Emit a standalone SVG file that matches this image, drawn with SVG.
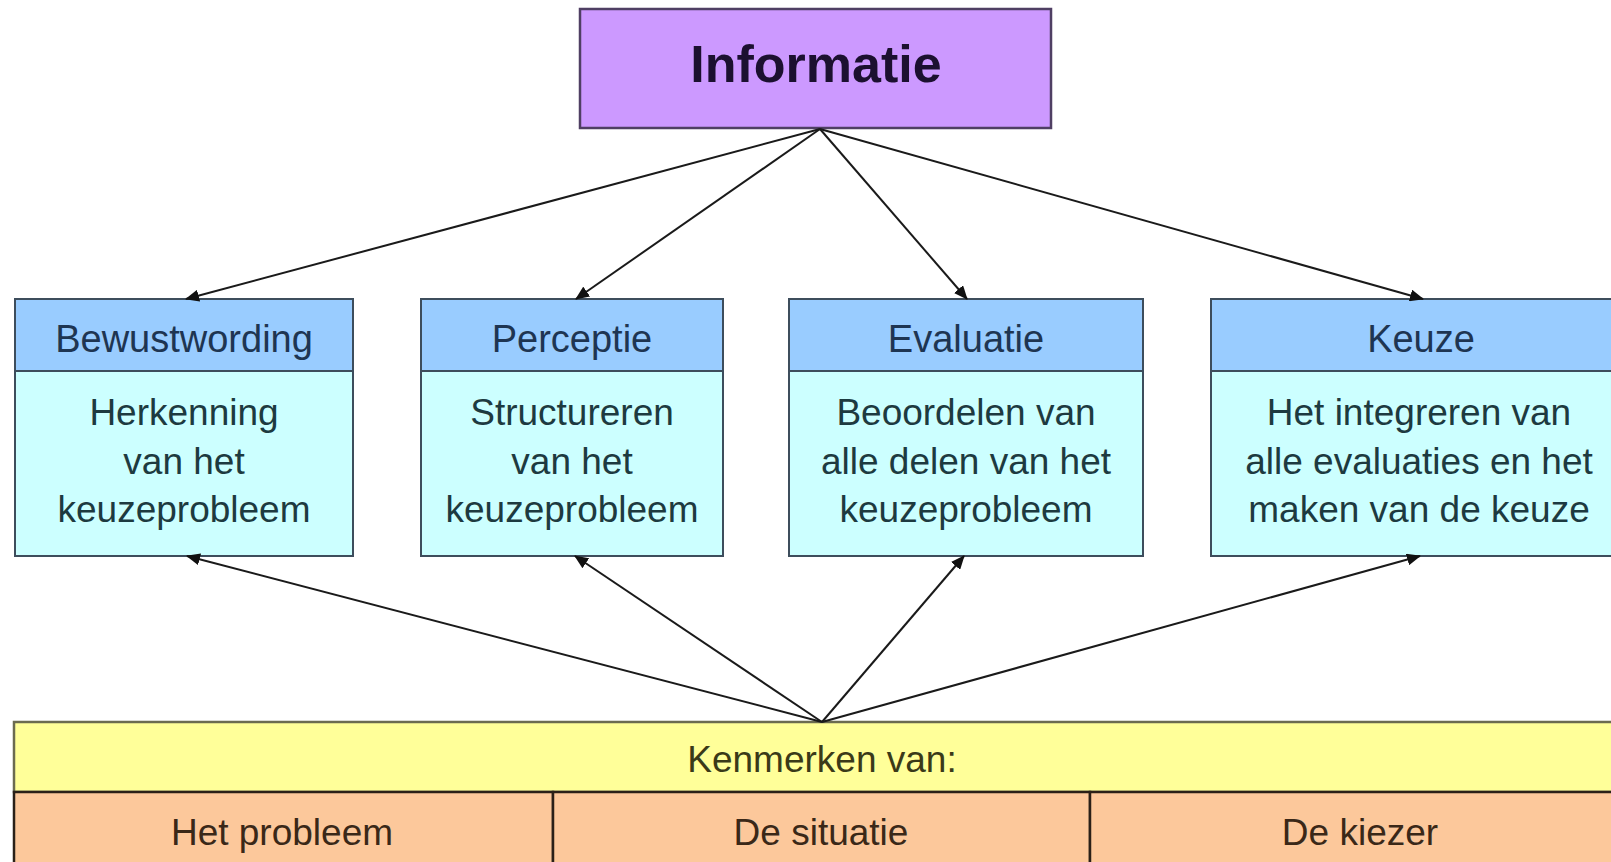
<svg xmlns="http://www.w3.org/2000/svg" width="1611" height="862" viewBox="0 0 1611 862">
<style>
  .hdr { fill: #99CCFF; stroke: #3d4d5c; stroke-width: 2; }
  .body { fill: #CCFFFF; stroke: #3d4d5c; stroke-width: 2; }
  .ht { font-family: "Liberation Sans", Arial, sans-serif; font-size: 38px; fill: #1e3552; text-anchor: middle; }
  .bt { font-family: "Liberation Sans", Arial, sans-serif; font-size: 37px; fill: #1d3a40; text-anchor: middle; }
  .ct { font-family: "Liberation Sans", Arial, sans-serif; font-size: 37px; fill: #3a2818; text-anchor: middle; }
  .conn { stroke: #1a1a1a; stroke-width: 2; fill: none; marker-end: url(#ah); }
</style>
<defs>
  <marker id="ah" markerWidth="14" markerHeight="12" refX="13" refY="6" orient="auto" markerUnits="userSpaceOnUse">
    <path d="M0,0 L14,6 L0,12 z" fill="#111"/>
  </marker>
</defs>
<rect width="1611" height="862" fill="#ffffff"/>

<g id="informatie">
  <rect x="580" y="9" width="471" height="119" fill="#CC99FF" stroke="#4f3f63" stroke-width="2.5"/>
  <text x="816" y="82" font-family="Liberation Sans, Arial, sans-serif" font-size="52" font-weight="bold" fill="#1c1030" text-anchor="middle">Informatie</text>
</g>

<g id="bewustwording">
  <rect class="hdr" x="15" y="299" width="338" height="72"/>
  <rect class="body" x="15" y="371" width="338" height="185"/>
  <text class="ht" x="184" y="352">Bewustwording</text>
  <text class="bt" x="184" y="425">Herkenning</text>
  <text class="bt" x="184" y="474">van het</text>
  <text class="bt" x="184" y="522">keuzeprobleem</text>
</g>

<g id="perceptie">
  <rect class="hdr" x="421" y="299" width="302" height="72"/>
  <rect class="body" x="421" y="371" width="302" height="185"/>
  <text class="ht" x="572" y="352">Perceptie</text>
  <text class="bt" x="572" y="425">Structureren</text>
  <text class="bt" x="572" y="474">van het</text>
  <text class="bt" x="572" y="522">keuzeprobleem</text>
</g>

<g id="evaluatie">
  <rect class="hdr" x="789" y="299" width="354" height="72"/>
  <rect class="body" x="789" y="371" width="354" height="185"/>
  <text class="ht" x="966" y="352">Evaluatie</text>
  <text class="bt" x="966" y="425">Beoordelen van</text>
  <text class="bt" x="966" y="474">alle delen van het</text>
  <text class="bt" x="966" y="522">keuzeprobleem</text>
</g>

<g id="keuze">
  <rect class="hdr" x="1211" y="299" width="420" height="72"/>
  <rect class="body" x="1211" y="371" width="420" height="185"/>
  <text class="ht" x="1421" y="352">Keuze</text>
  <text class="bt" x="1419" y="425">Het integreren van</text>
  <text class="bt" x="1419" y="474">alle evaluaties en het</text>
  <text class="bt" x="1419" y="522">maken van de keuze</text>
</g>

<g id="kenmerken">
  <rect x="14" y="722" width="1620" height="70" fill="#FFFF99" stroke="#6b6b50" stroke-width="2.5"/>
  <text class="ct" x="822" y="772" style="fill:#3a3a18">Kenmerken van:</text>
</g>

<g id="het-probleem">
  <rect x="14" y="792" width="539" height="80" fill="#FCC89B" stroke="#2a2018" stroke-width="2.5"/>
  <text class="ct" x="282" y="845">Het probleem</text>
</g>
<g id="de-situatie">
  <rect x="553" y="792" width="537" height="80" fill="#FCC89B" stroke="#2a2018" stroke-width="2.5"/>
  <text class="ct" x="821" y="845">De situatie</text>
</g>
<g id="de-kiezer">
  <rect x="1090" y="792" width="544" height="80" fill="#FCC89B" stroke="#2a2018" stroke-width="2.5"/>
  <text class="ct" x="1360" y="845">De kiezer</text>
</g>

<g id="connectors">
  <line class="conn" x1="820" y1="129" x2="186" y2="299"/>
  <line class="conn" x1="820" y1="129" x2="576" y2="299"/>
  <line class="conn" x1="820" y1="129" x2="967" y2="299"/>
  <line class="conn" x1="820" y1="129" x2="1423" y2="299"/>
  <line class="conn" x1="822" y1="722" x2="187" y2="556"/>
  <line class="conn" x1="822" y1="722" x2="575" y2="556"/>
  <line class="conn" x1="822" y1="722" x2="964" y2="556"/>
  <line class="conn" x1="822" y1="722" x2="1420" y2="556"/>
</g>
</svg>
